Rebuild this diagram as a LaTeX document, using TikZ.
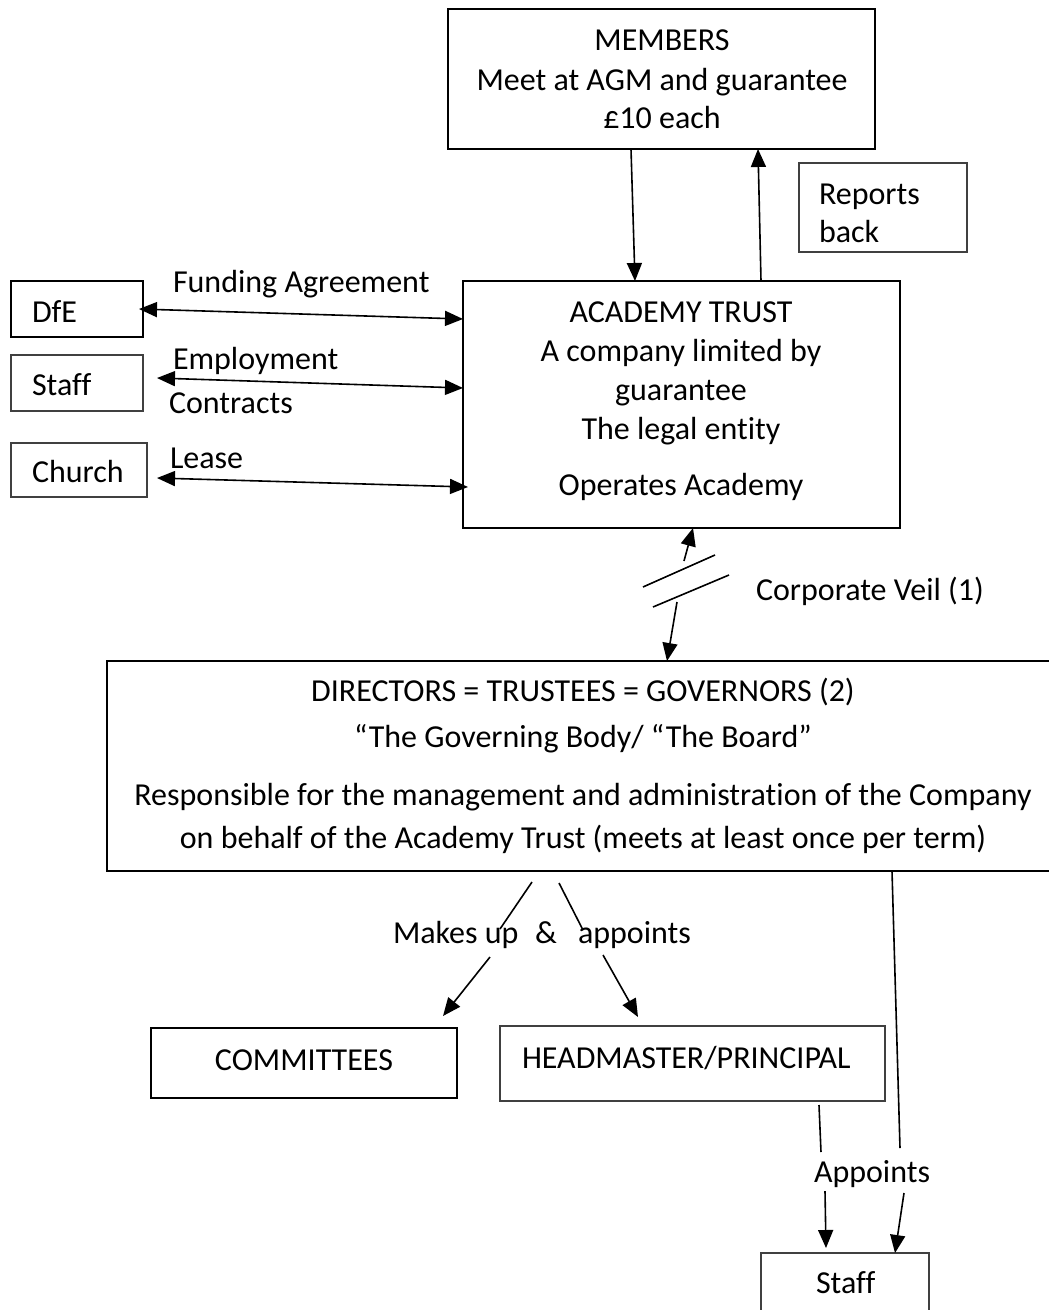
\documentclass[tikz,border=0pt]{standalone}
\usepackage{fontspec}
\setmainfont{Carlito}[Ligatures={NoCommon}]
\usetikzlibrary{arrows.meta,calc}
\begin{document}
\begin{tikzpicture}[x=1pt,y=-1pt,
  thickbox/.style={draw=black,line width=2pt,rectangle,anchor=north west,inner sep=0pt,outer sep=0pt},
  thinbox/.style={draw=black!75,line width=1.3pt,rectangle,anchor=north west,inner sep=0pt,outer sep=0pt},
  lbl/.style={anchor=base,inner sep=0pt,outer sep=0pt,font=\fontsize{32}{38}\selectfont},
  lblw/.style={lbl,anchor=base west},
  tip/.tip={Triangle[length=18pt,width=15pt]},
  arr/.style={line width=1.6pt,-tip},
  darr/.style={line width=1.6pt,tip-tip},
  seg/.style={line width=1.6pt}]
\useasboundingbox (0,0) rectangle (1049,1310);
\clip (0,0) rectangle (1049,1310);
\fill[white] (0,0) rectangle (1049,1310);

% boxes
\node[thickbox,minimum width=427pt,minimum height=140pt] (members) at (448,9) {};
\node[thinbox,minimum width=168pt,minimum height=89pt] (reports) at (799,163) {};
\node[thickbox,minimum width=437pt,minimum height=247pt] (trust) at (463,281) {};
\node[thickbox,minimum width=132pt,minimum height=56pt] (dfe) at (11,281) {};
\node[thinbox,minimum width=132pt,minimum height=56pt] (staffA) at (11,355) {};
\node[thinbox,minimum width=136pt,minimum height=54pt] (church) at (11,443) {};
\node[thickbox,minimum width=980pt,minimum height=210pt] (directors) at (107,661) {};
\node[thickbox,minimum width=306pt,minimum height=70pt] (committees) at (151,1028) {};
\node[thinbox,minimum width=385pt,minimum height=75pt] (head) at (500,1026) {};
\node[thinbox,minimum width=168pt,minimum height=90pt] (staffB) at (761,1253) {};

% texts
\node[lbl] (m1) at (662,50) {MEMBERS};
\node[lbl] (m2) at (662,90) {Meet at AGM and guarantee};
\node[lbl] (m3) at (662,128) {£10 each};
\node[lblw] (r1) at (819,204) {Reports};
\node[lblw] (r2) at (819,242) {back};
\node[lblw] (fund) at (173,292) {Funding Agreement};
\node[lblw] (dfet) at (32,322) {DfE};
\node[lblw] (emp) at (173,369) {Employment};
\node[lblw] (con) at (169,413) {Contracts};
\node[lblw] (stafft) at (32,395) {Staff};
\node[lblw] (lease) at (170,468) {Lease};
\node[lblw] (churcht) at (32,482) {Church};
\node[lbl] (t1) at (681,322) {ACADEMY TRUST};
\node[lbl] (t2) at (681,361) {A company limited by};
\node[lbl] (t3) at (681,400) {guarantee};
\node[lbl] (t4) at (681,439) {The legal entity};
\node[lbl] (t5) at (681,495) {Operates Academy};
\node[lblw] (veil) at (756,600) {Corporate Veil (1)};
\node[lbl] (d1) at (583,701) {DIRECTORS = TRUSTEES = GOVERNORS (2)};
\node[lbl] (d2) at (583,747) {“The Governing Body/ “The Board”};
\node[lbl] (d3) at (583,805) {Responsible for the management and administration of the Company};
\node[lbl] (d4) at (583,848) {on behalf of the Academy Trust (meets at least once per term)};
\node[lblw] (makes) at (393,943) {Makes up};
\node[lblw] (amp) at (535,943) {\&};
\node[lblw] (appt) at (578,943) {appoints};
\node[lbl] (comt) at (304,1070) {COMMITTEES};
\node[lblw] (headt) at (522,1068) {HEADMASTER/PRINCIPAL};
\node[lblw] (appt2) at (814,1182) {Appoints};
\node[lblw] (staffBt) at (816,1293) {Staff};

% members <-> trust
\draw[arr] ($(members.north west)+(183,140)$) -- ($(trust.north west)+(172,0)$);
\draw[arr] ($(trust.north west)+(298,0)$) -- ($(members.north west)+(310,140)$);

% side agreements
\draw[darr] ($(dfe.north west)+(128,28)$) -- ($(trust.north west)+(0,38)$);
\draw[darr] ($(staffA.north west)+(146,23)$) -- ($(trust.north west)+(0,107)$);
\draw[darr] ($(church.north west)+(146,35)$) -- ($(trust.north west)+(5,206)$);

% corporate veil
\coordinate (veilA) at (684,561);
\coordinate (veilB) at (677,602);
\draw[arr] (veilA) -- ($(trust.north west)+(230,247)$);
\draw[arr] (veilB) -- ($(directors.north west)+(560,0)$);
\draw[seg] (643,587) -- (715,555);
\draw[seg] (653,607) -- (729,575);

% makes up & appoints
\draw[seg] ($(directors.north west)+(425,221)$) -- ($(makes.base west)+(107,-14)$);
\draw[arr] ($(makes.base west)+(97,14)$) -- ($(committees.north west)+(292,-12)$);
\draw[seg] ($(directors.north west)+(452,222)$) -- ($(appt.base west)+(5,-13)$);
\draw[arr] ($(appt.base west)+(25,12)$) -- ($(head.north west)+(138,-9)$);

% appoints staff
\draw[seg] ($(head.north west)+(319,79)$) -- ($(appt2.base west)+(7,-30)$);
\draw[arr] ($(appt2.base west)+(11,9)$) -- ($(staffB.north west)+(65,-5)$);
\draw[seg] ($(directors.north west)+(785,210)$) -- ($(appt2.base west)+(86,-34)$);
\draw[arr] ($(appt2.base west)+(90,11)$) -- ($(staffB.north west)+(134,0)$);
\end{tikzpicture}
\end{document}
